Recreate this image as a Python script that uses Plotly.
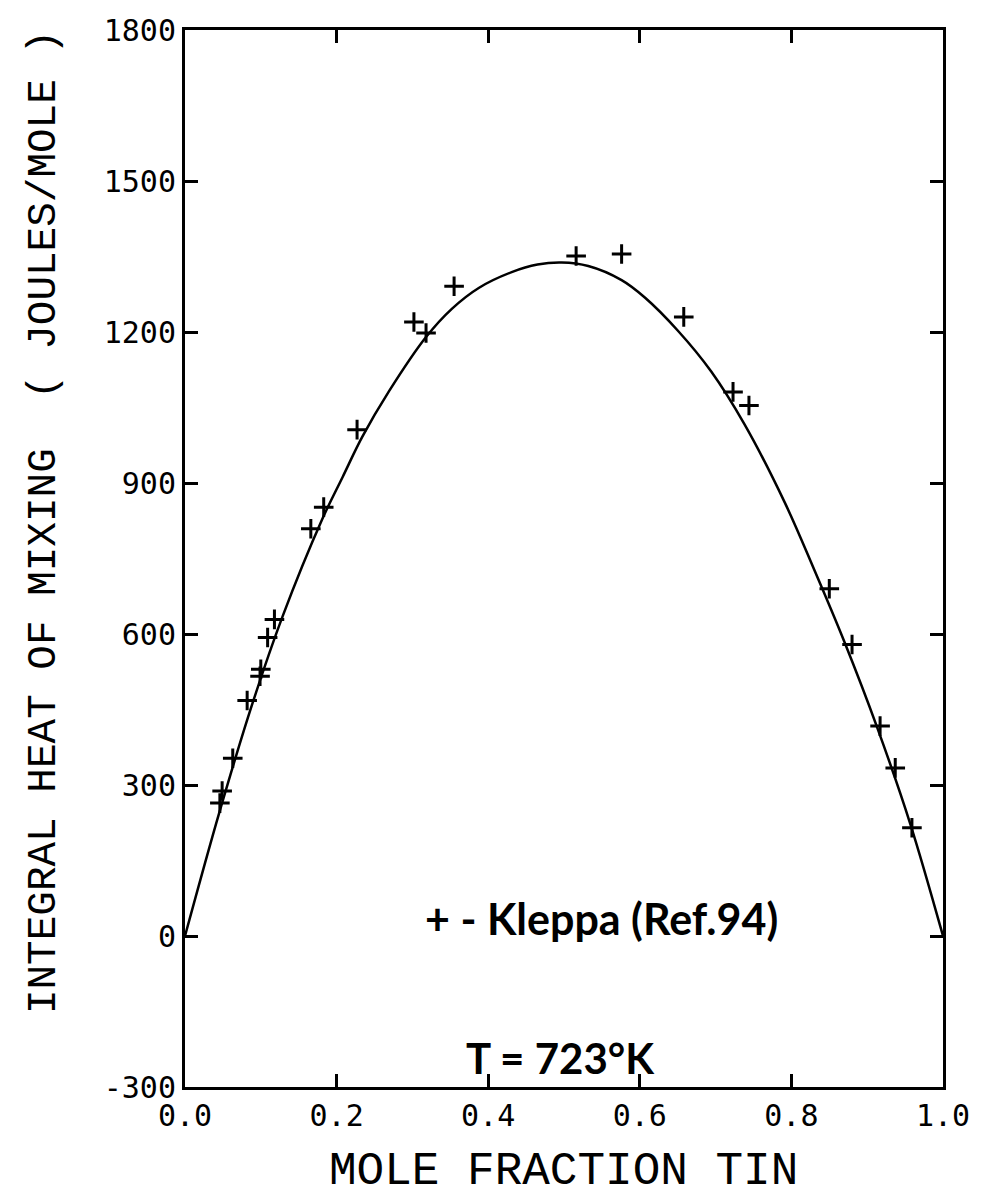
import plotly.graph_objects as go

# Measured data points (Kleppa, Ref. 94)
x_pts = [0.046, 0.049, 0.063, 0.082, 0.099, 0.100, 0.109, 0.118, 0.166, 0.183,
         0.227, 0.302, 0.318, 0.355, 0.516, 0.576, 0.658, 0.723, 0.744,
         0.850, 0.880, 0.917, 0.937, 0.959]
y_pts = [264, 288, 353, 468, 516, 530, 593, 629, 809, 852,
         1006, 1220, 1198, 1291, 1351, 1355, 1230, 1081, 1054,
         690, 579, 417, 334, 215]

# Calculated curve
x_curve = [0.0, 0.046, 0.089, 0.129, 0.181, 0.208, 0.234, 0.269, 0.318,
           0.352, 0.388, 0.431, 0.465, 0.497, 0.532, 0.576, 0.607, 0.650,
           0.694, 0.738, 0.791, 0.830, 0.870, 0.913, 0.957, 1.0]
y_curve = [0, 249, 462, 636, 828, 912, 992, 1082, 1190,
           1246, 1288, 1319, 1334, 1338, 1331, 1303, 1268, 1203,
           1122, 1017, 862, 728, 584, 415, 222, 0]

x_ticks = [0.0, 0.2, 0.4, 0.6, 0.8, 1.0]
x_tick_labels = ["0.0", "0.2", "0.4", "0.6", "0.8", "1.0"]
y_ticks = [-300, 0, 300, 600, 900, 1200, 1500, 1800]
y_tick_labels = ["-300", "0", "300", "600", "900", "1200", "1500", "1800"]

fig = go.Figure()
fig.add_trace(go.Scatter(x=x_curve, y=y_curve, mode="lines",
                         line=dict(color="black", width=2.5, shape="spline", smoothing=1.0),
                         showlegend=False, hoverinfo="skip"))
fig.add_trace(go.Scatter(x=x_pts, y=y_pts, mode="markers",
                         marker=dict(symbol="cross-thin", size=14,
                                     line=dict(color="black", width=3)),
                         showlegend=False))

tick_font = dict(family="DejaVu Sans Mono", size=30, color="black")
fig.update_xaxes(range=[0, 1], tickvals=x_ticks, ticktext=x_tick_labels,
                 showline=True, linecolor="black", linewidth=3, mirror="ticks",
                 ticks="inside", ticklen=13, tickwidth=3, tickcolor="black",
                 showgrid=False, zeroline=False, tickfont=tick_font)
fig.update_yaxes(range=[-300, 1800], tickvals=y_ticks, ticktext=y_tick_labels,
                 showline=True, linecolor="black", linewidth=3, mirror="ticks",
                 ticks="inside", ticklen=13, tickwidth=3, tickcolor="black",
                 showgrid=False, zeroline=False, tickfont=tick_font)

fig.update_layout(
    width=982, height=1201,
    margin=dict(l=185, r=36, t=26, b=114),
    paper_bgcolor="white", plot_bgcolor="white",
    annotations=[
        dict(text="MOLE FRACTION TIN", xref="paper", yref="paper", x=0.499, y=-0.1065,
             xanchor="center", yanchor="bottom", showarrow=False,
             font=dict(family="Liberation Mono", size=46, color="black")),
        dict(text="INTEGRAL HEAT OF MIXING  ( JOULES/MOLE )", xref="paper", yref="paper",
             x=-0.1866, y=0.534, xanchor="center", yanchor="middle", textangle=-90,
             showarrow=False, font=dict(family="Liberation Mono", size=41, color="black")),
        dict(text="+ - Kleppa (Ref.94)", xref="paper", yref="paper", x=0.55, y=0.159,
             xanchor="center", yanchor="middle", showarrow=False,
             font=dict(family="Lato", size=43, color="black", weight="bold")),
        dict(text="T = 723°K", xref="paper", yref="paper", x=0.495, y=0.027,
             xanchor="center", yanchor="middle", showarrow=False,
             font=dict(family="Lato", size=42, color="black", weight="bold")),
    ],
)

fig.write_html("out.html")
